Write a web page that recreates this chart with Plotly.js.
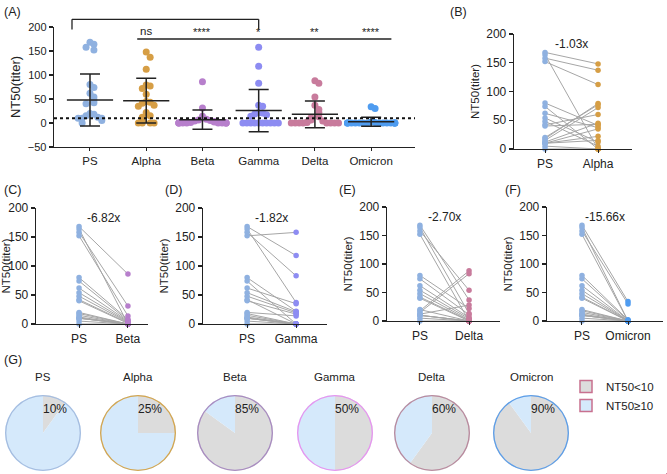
<!DOCTYPE html>
<html>
<head>
<meta charset="utf-8">
<script src="https://cdn.plot.ly/plotly-3.0.1.min.js"></script>
<style>
  html, body { margin: 0; padding: 0; background: #fff; }
  #chart { width: 667px; height: 474px; }
</style>
</head>
<body>
<div id="chart"></div>
<script>
// groups and NT50 titers (same donor order in every array, so PS[i] pairs with variant[i])
var groups = ['PS', 'Alpha', 'Beta', 'Gamma', 'Delta', 'Omicron'];
var psVals      = [168, 164, 158, 152, 80, 74, 62, 54, 48, 42, 40, 20, 18, 15, 12, 10, 10, 10, 5, 0];
var alphaVals   = [148, 0, 137, 112, 41, 0, 37, 12, 5, 60, 43, 77, 79, 72, 45, 35, 22, 15, 0, 0];
var betaVals    = [86, 0, 31, 14, 8, 6, 5, 4, 3, 2, 1, 0, 0, 0, 0, 0, 0, 0, 0, 0];
var gammaVals   = [118, 37, 83, 158, 22, 0, 35, 21, 19, 0, 17, 14, 0, 0, 0, 0, 0, 0, 0, 0];
var deltaVals   = [37, 13, 54, 0, 22, 11, 6, 4, 2, 1, 0, 0, 88, 83, 28, 0, 0, 0, 0, 0];
var omicronVals = [34, 0, 30, 0, 2, 1, 0, 0, 0, 0, 0, 0, 0, 0, 0, 0, 0, 0, 0, 0];

// mean and SD bars as drawn in panel A
var meanVals = [48, 46.5, 7, 26, 18, 2.5];
var sdVals   = [54, 46.5, 20, 44, 28, 9.5];

var sigLabels  = ['ns', '****', '*', '**', '****'];
var foldLabels = ['-1.03x', '-6.82x', '-1.82x', '-2.70x', '-15.66x'];
var cutoff = 10;
var pieLabels = ['NT50<10', 'NT50\u226510'];

var allVals = [psVals, alphaVals, betaVals, gammaVals, deltaVals, omicronVals];
var dotColors  = ['#8fb1e0', '#d69e45', '#b77fcc', '#8d8cf2', '#c87b9c', '#4f9cf0'];
var ringColors = ['#a5bde0', '#d4a64f', '#a88bc0', '#e695f0', '#b98a9e', '#5d9ee8'];
var pieFill = ['#dcdcdc', '#d5e9fb'];
var FONT = 'Arial, "Liberation Sans", sans-serif';
var W = 667, H = 474;

// simple deterministic beeswarm offset (capped width)
function swarm(vals, d, tol, cap) {
  var order = vals.map(function (v, i) { return i; }).sort(function (a, b) { return vals[b] - vals[a]; });
  var off = vals.map(function () { return 0; });
  var placed = [];
  order.forEach(function (i) {
    var k = placed.filter(function (j) { return Math.abs(vals[j] - vals[i]) < tol; }).length;
    off[i] = (k % 2 ? 1 : -1) * Math.min(Math.ceil(k / 2) * d, cap);
    placed.push(i);
  });
  return off;
}

var traces = [];

// ---- panel A ----
allVals.forEach(function (vals, g) {
  var off = swarm(vals, 0.07, 12, 0.42);
  traces.push({
    x: vals.map(function (v, i) { return g + off[i]; }),
    y: vals,
    type: 'scatter', mode: 'markers', xaxis: 'x', yaxis: 'y',
    marker: { size: 7, color: dotColors[g] },
    showlegend: false, hoverinfo: 'y', cliponaxis: false
  });
});
traces.push({
  x: groups.map(function (g, i) { return i; }),
  y: meanVals,
  type: 'scatter', mode: 'markers', xaxis: 'x', yaxis: 'y',
  marker: { symbol: 'line-ew-open', size: 33, color: '#222', line: { width: 1.5, color: '#222' } },
  error_y: { type: 'data', array: sdVals, visible: true, color: '#222', thickness: 1.5, width: 10 },
  showlegend: false, hoverinfo: 'y', cliponaxis: false
});

// ---- panels B-F: paired PS vs variant ----
for (var p = 1; p < 6; p++) {
  var ax = p + 1;
  var vals = allVals[p];
  var lx = [], ly = [];
  psVals.forEach(function (v, i) { lx.push(0, 1, null); ly.push(v, vals[i], null); });
  traces.push({
    x: lx, y: ly, type: 'scatter', mode: 'lines',
    xaxis: 'x' + ax, yaxis: 'y' + ax,
    line: { color: '#a6a6a6', width: 1 },
    showlegend: false, hoverinfo: 'skip', cliponaxis: false
  });
  traces.push({
    x: psVals.map(function () { return 0; }), y: psVals,
    type: 'scatter', mode: 'markers', xaxis: 'x' + ax, yaxis: 'y' + ax,
    marker: { size: 5.5, color: dotColors[0] }, showlegend: false, cliponaxis: false
  });
  traces.push({
    x: vals.map(function () { return 1; }), y: vals,
    type: 'scatter', mode: 'markers', xaxis: 'x' + ax, yaxis: 'y' + ax,
    marker: { size: 5.5, color: dotColors[p] }, showlegend: false, cliponaxis: false
  });
}

// ---- panel G: pies ----
var pieCx = [43, 138, 235, 335, 432, 531];
var pieCy = 433, pieR = 38;
var pcts = allVals.map(function (vals) {
  return Math.round(100 * vals.filter(function (v) { return v < cutoff; }).length / vals.length);
});

// legend-only pie (tiny, off in a corner)
traces.push({
  type: 'pie', labels: pieLabels, values: [1, 1], sort: false,
  domain: { x: [0.9995, 1], y: [0, 0.0005] },
  marker: { colors: pieFill, line: { color: '#c8708f', width: 1.5 } },
  textinfo: 'none', hoverinfo: 'skip', showlegend: true
});
pcts.forEach(function (pc, g) {
  var dom = {
    x: [(pieCx[g] - pieR) / W, (pieCx[g] + pieR) / W],
    y: [1 - (pieCy + pieR) / H, 1 - (pieCy - pieR) / H]
  };
  traces.push({
    type: 'pie', labels: pieLabels, values: [pc, 100 - pc],
    sort: false, direction: 'clockwise', rotation: 0, domain: dom,
    marker: { colors: pieFill, line: { width: 0 } },
    textinfo: 'none', hoverinfo: 'label+percent', showlegend: false
  });
  // thin coloured rim
  traces.push({
    type: 'pie', labels: ['rim'], values: [1], hole: 0.965, sort: false, domain: dom,
    marker: { colors: [ringColors[g]], line: { width: 0 } },
    textinfo: 'none', hoverinfo: 'skip', showlegend: false
  });
});

// ---- axes ----
function yAx(dom, range, fs, tfs, anchor) {
  return {
    domain: dom, range: range, dtick: 50, anchor: anchor, showgrid: false, zeroline: false,
    showline: true, linecolor: '#222', linewidth: 1.3,
    ticks: 'outside', ticklen: 4, tickcolor: '#222', tickwidth: 1.2,
    tickfont: { family: FONT, size: fs, color: '#222' },
    title: { text: 'NT50(titer)', font: { family: FONT, size: tfs, color: '#222' }, standoff: 4 }
  };
}
function xAx(dom, range, labels, fs, anchor) {
  return {
    domain: dom, range: range, anchor: anchor,
    tickvals: labels.map(function (l, i) { return i; }), ticktext: labels,
    showgrid: false, zeroline: false, showline: true, linecolor: '#222', linewidth: 1.3,
    ticks: 'outside', ticklen: 3, tickcolor: '#222',
    tickfont: { family: FONT, size: fs, color: '#222' }
  };
}
function px(v) { return v / W; }
function py(v) { return 1 - v / H; }

var xrA = [-0.64, 5.78], yrA = [-50, 200];
var layout = {
  width: W, height: H,
  margin: { l: 0, r: 0, t: 0, b: 0 },
  paper_bgcolor: '#fff', plot_bgcolor: 'rgba(0,0,0,0)',
  font: { family: FONT, color: '#222' },
  xaxis: xAx([px(54), px(415)], xrA, groups, 11.5, 'y'),
  yaxis: yAx([py(147), py(27)], yrA, 11, 13, 'x'),
  xaxis2: xAx([px(514), px(632)], [-0.585, 1.64], ['PS', 'Alpha'], 12, 'y2'),
  yaxis2: yAx([py(149), py(34)], [0, 200], 12, 11.5, 'x2'),
  xaxis3: xAx([px(36), px(148)], [-0.88, 1.41], ['PS', 'Beta'], 12, 'y3'),
  yaxis3: yAx([py(324), py(208)], [0, 200], 12, 11.5, 'x3'),
  xaxis4: xAx([px(203), px(327)], [-0.9, 1.63], ['PS', 'Gamma'], 12, 'y4'),
  yaxis4: yAx([py(324), py(208)], [0, 200], 12, 11.5, 'x4'),
  xaxis5: xAx([px(387), px(500)], [-0.67, 1.63], ['PS', 'Delta'], 12, 'y5'),
  yaxis5: yAx([py(321), py(207)], [0, 200], 12, 11.5, 'x5'),
  xaxis6: xAx([px(547), px(663)], [-0.76, 1.76], ['PS', 'Omicron'], 12, 'y6'),
  yaxis6: yAx([py(321), py(207)], [0, 200], 12, 11.5, 'x6'),
  showlegend: true,
  legend: {
    x: px(566), y: py(372), xanchor: 'left', yanchor: 'top',
    font: { family: FONT, size: 11.5, color: '#222' },
    bgcolor: 'rgba(0,0,0,0)', tracegroupgap: 0, itemwidth: 30
  },
  shapes: [],
  annotations: []
};

// domain helpers for panel A decorations
function xd(c) { return (c - xrA[0]) / (xrA[1] - xrA[0]); }
function yd(v) { return (v - yrA[0]) / (yrA[1] - yrA[0]); }
function seg(x0, y0, x1, y1) {
  return { type: 'line', xref: 'x domain', yref: 'y domain',
    x0: xd(x0), y0: yd(y0), x1: xd(x1), y1: yd(y1), line: { color: '#222', width: 1.3 } };
}
// cutoff line
layout.shapes.push({ type: 'line', xref: 'x domain', yref: 'y', x0: 0, x1: 1, y0: cutoff, y1: cutoff,
  line: { color: '#111', width: 2, dash: 'dot' } });
// PS vs Gamma bracket
layout.shapes.push(seg(-0.32, 216, 3, 216));
layout.shapes.push(seg(-0.32, 216, -0.32, 195));
layout.shapes.push(seg(3, 216, 3, 195));
// PS vs variants line
layout.shapes.push(seg(0.84, 175, 5.36, 175));

sigLabels.forEach(function (t, i) {
  layout.annotations.push({
    text: t, xref: 'x', yref: 'y', x: i + 1, y: t === 'ns' ? 176 : 173,
    xanchor: 'center', yanchor: 'bottom', showarrow: false,
    font: { family: FONT, size: t === 'ns' ? 11.5 : 11, color: '#222' }
  });
});

foldLabels.forEach(function (t, i) {
  layout.annotations.push({
    text: t, xref: 'x' + (i + 2), yref: 'y' + (i + 2), x: 0.5, y: 183,
    xanchor: 'center', yanchor: 'middle',
    showarrow: false, font: { family: FONT, size: 12, color: '#222' }
  });
});

// panel letters
[['(A)', 2, 12], ['(B)', 448, 12], ['(C)', 2, 190], ['(D)', 163, 190],
 ['(E)', 337, 190], ['(F)', 503, 190], ['(G)', 2, 360]].forEach(function (l) {
  layout.annotations.push({
    text: l[0], xref: 'paper', yref: 'paper', x: px(l[1]), y: py(l[2]),
    xanchor: 'left', yanchor: 'middle', showarrow: false,
    font: { family: FONT, size: 12.5, color: '#222' }
  });
});

// pie titles and percentages
groups.forEach(function (g, i) {
  layout.annotations.push({
    text: g, xref: 'paper', yref: 'paper', x: px(pieCx[i]), y: py(377),
    xanchor: 'center', yanchor: 'middle',
    showarrow: false, font: { family: FONT, size: 11.5, color: '#222' }
  });
  layout.annotations.push({
    text: pcts[i] + '%', xref: 'paper', yref: 'paper', x: px(pieCx[i] + 12), y: py(409),
    xanchor: 'center', yanchor: 'middle',
    showarrow: false, font: { family: FONT, size: 12, color: '#222' }
  });
});

Plotly.newPlot('chart', traces, layout, { displayModeBar: false, staticPlot: true });
</script>
</body>
</html>
